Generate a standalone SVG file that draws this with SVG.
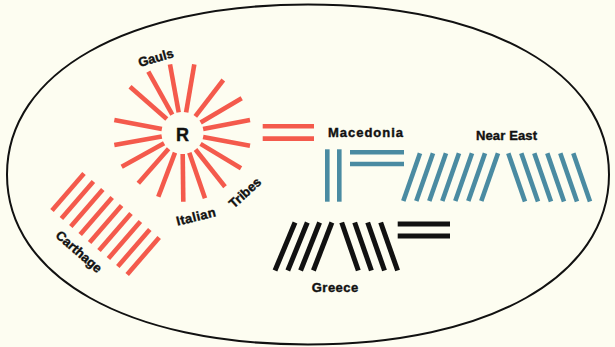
<svg xmlns="http://www.w3.org/2000/svg" width="615" height="347" viewBox="0 0 615 347">
<style>
.red{stroke:#f45a4c;stroke-width:4.6;fill:none}
.blue{stroke:#4a8ba2;stroke-width:4.6;fill:none}
.blk{stroke:#111;stroke-width:5;fill:none}
.lbl{font-family:"Liberation Sans",Arial,sans-serif;font-weight:bold;font-size:13px;fill:#111;stroke:#111;stroke-width:0.4}
</style>
<rect x="0" y="0" width="615" height="347" fill="#fdfdf1"/>
<path id="frame" d="M7 174.5 C7 72.5 127.4 4.5 308 4.5 C488.6 4.5 609 72.5 609 174.5 C609 276.5 488.6 344.5 308 344.5 C127.4 344.5 7 276.5 7 174.5 Z" fill="none" stroke="#111" stroke-width="2"/>

<g id="rome">
  <g class="red">
    <line x1="166.8" y1="119.1" x2="130" y2="86.7"/>
    <line x1="172.3" y1="114.7" x2="148.3" y2="71.7"/>
    <line x1="178.7" y1="112.3" x2="170" y2="64.3"/>
    <line x1="186.1" y1="112.3" x2="194.3" y2="64.3"/>
    <line x1="195.3" y1="116.4" x2="223.3" y2="80"/>
    <line x1="200.6" y1="122.4" x2="241.7" y2="98.3"/>
    <line x1="203.1" y1="129.0" x2="250" y2="120"/>
    <line x1="203.1" y1="136.9" x2="250" y2="145.7"/>
    <line x1="200.5" y1="143.9" x2="241" y2="168.3"/>
    <line x1="195.5" y1="149.5" x2="225" y2="186.7"/>
    <line x1="189.3" y1="152.8" x2="205" y2="198.3"/>
    <line x1="182.7" y1="154.0" x2="183.3" y2="201.7"/>
    <line x1="175.0" y1="152.6" x2="158.3" y2="196.7"/>
    <line x1="168.6" y1="148.8" x2="138.3" y2="183.3"/>
    <line x1="164.1" y1="143.2" x2="121.7" y2="166.7"/>
    <line x1="161.8" y1="136.6" x2="114.3" y2="145"/>
    <line x1="161.9" y1="129.1" x2="114.3" y2="120"/>
  </g>
  <text class="lbl" x="182.5" y="140.5" text-anchor="middle" style="font-size:18px">R</text>
  <text class="lbl" text-anchor="middle" transform="translate(157,62) rotate(-16)">Gauls</text>
  <text class="lbl" text-anchor="middle" transform="translate(197,221) rotate(-14)" textLength="40">Italian</text>
  <text class="lbl" text-anchor="middle" transform="translate(248,196) rotate(-42)">Tribes</text>
</g>

<g id="carthage">
  <g class="red">
    <line x1="52" y1="210.5" x2="84" y2="173.5"/>
    <line x1="61.4" y1="218.5" x2="93.4" y2="181.5"/>
    <line x1="70.8" y1="226.5" x2="102.8" y2="189.5"/>
    <line x1="80.2" y1="234.5" x2="112.2" y2="197.5"/>
    <line x1="89.6" y1="242.5" x2="121.6" y2="205.5"/>
    <line x1="99" y1="250.5" x2="131" y2="213.5"/>
    <line x1="108.4" y1="258.5" x2="140.4" y2="221.5"/>
    <line x1="117.8" y1="266.5" x2="149.8" y2="229.5"/>
    <line x1="127.2" y1="274.5" x2="159.2" y2="237.5"/>
  </g>
  <text class="lbl" text-anchor="middle" transform="translate(76,255) rotate(41)">Carthage</text>
</g>

<g id="connectors">
  <g class="red">
    <line x1="262.7" y1="126.2" x2="314" y2="126.2"/>
    <line x1="262.7" y1="138.6" x2="314" y2="138.6"/>
  </g>
  <g class="blue">
    <line x1="350" y1="152.3" x2="404" y2="152.3"/>
    <line x1="350" y1="164" x2="404" y2="164"/>
  </g>
  <g class="blk">
    <line x1="397.7" y1="224" x2="450" y2="224"/>
    <line x1="397.7" y1="236" x2="450" y2="236"/>
  </g>
</g>

<g id="macedonia">
  <g class="blue">
    <line x1="327.3" y1="149.3" x2="327.3" y2="201.7"/>
    <line x1="339.3" y1="149.3" x2="339.3" y2="201.7"/>
  </g>
  <text class="lbl" x="328" y="137" textLength="75">Macedonia</text>
</g>

<g id="near-east">
  <g class="blue">
    <line x1="420" y1="153.3" x2="403.3" y2="201"/>
    <line x1="433" y1="153.3" x2="416.3" y2="201"/>
    <line x1="446" y1="153.3" x2="429.3" y2="201"/>
    <line x1="459" y1="153.3" x2="442.3" y2="201"/>
    <line x1="472" y1="153.3" x2="455.3" y2="201"/>
    <line x1="485" y1="153.3" x2="468.3" y2="201"/>
    <line x1="498" y1="153.3" x2="481.3" y2="201"/>
    <line x1="508.3" y1="153.3" x2="525" y2="201.5"/>
    <line x1="521.3" y1="153.3" x2="538" y2="201.5"/>
    <line x1="534.3" y1="153.3" x2="551" y2="201.5"/>
    <line x1="547.3" y1="153.3" x2="564" y2="201.5"/>
    <line x1="560.3" y1="153.3" x2="577" y2="201.5"/>
    <line x1="573.3" y1="153.3" x2="590" y2="201.5"/>
  </g>
  <text class="lbl" x="476" y="139.5" textLength="61">Near East</text>
</g>

<g id="greece">
  <g class="blk">
    <line x1="295" y1="222.5" x2="275" y2="270.5"/>
    <line x1="307.3" y1="222.5" x2="287.8" y2="270.5"/>
    <line x1="319.6" y1="222.5" x2="300.6" y2="270.5"/>
    <line x1="331.9" y1="222.5" x2="313.4" y2="270.5"/>
    <line x1="341.7" y1="222.5" x2="358.3" y2="270.5"/>
    <line x1="354.7" y1="222.5" x2="371.4" y2="270.5"/>
    <line x1="367.7" y1="222.5" x2="384.5" y2="270.5"/>
    <line x1="380.7" y1="222.5" x2="397.6" y2="270.5"/>
  </g>
  <text class="lbl" x="311.7" y="292" textLength="46.6">Greece</text>
</g>
</svg>
